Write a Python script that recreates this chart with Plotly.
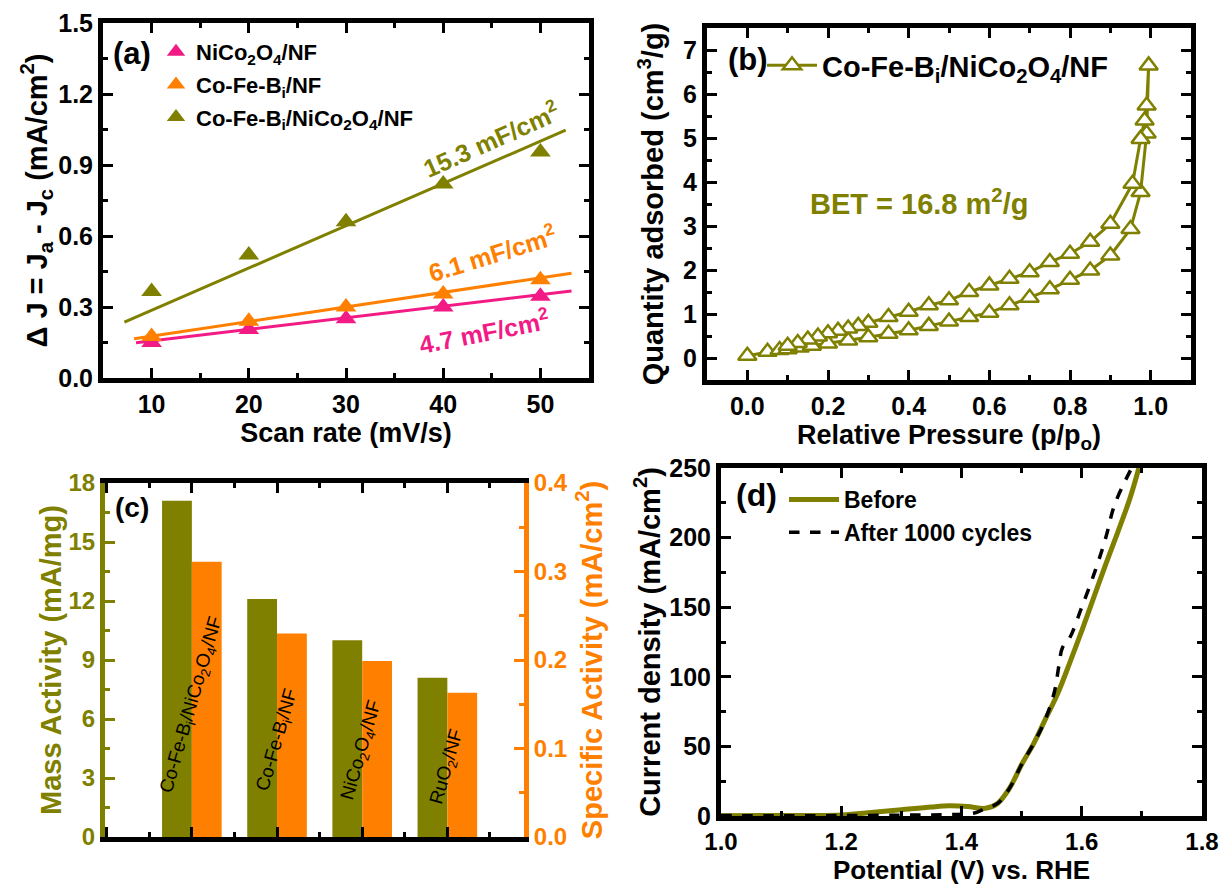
import plotly.graph_objects as go

FONT = "Liberation Sans, Arial, sans-serif"
OLIVE = "#808000"
ORANGE = "#ff8000"
PINK = "#f21b85"

# ---------------- (a) data ----------------
scan_rate = [10, 20, 30, 40, 50]
dj_nico = [0.15, 0.205, 0.25, 0.30, 0.345]
dj_cofe = [0.175, 0.24, 0.30, 0.355, 0.415]
dj_comp = [0.365, 0.52, 0.66, 0.82, 0.955]
fit_x_comp = [7.2, 52.6]
fit_y_comp = [0.236, 1.047]
fit_x_cofe = [8.2, 53.2]
fit_y_cofe = [0.166, 0.443]
fit_x_nico = [8.4, 53.2]
fit_y_nico = [0.149, 0.368]

# ---------------- (b) data ----------------
ads_p = [0.0, 0.05, 0.08, 0.1, 0.13, 0.16, 0.2, 0.25, 0.3, 0.35, 0.4, 0.45, 0.5, 0.55,
         0.6, 0.65, 0.7, 0.75, 0.8, 0.85, 0.9, 0.95, 0.975, 0.99, 0.995]
ads_q = [0.05, 0.14, 0.18, 0.2, 0.24, 0.28, 0.33, 0.4, 0.47, 0.55, 0.63, 0.73, 0.83, 0.93,
         1.03, 1.2, 1.37, 1.56, 1.78, 1.99, 2.33, 2.93, 3.77, 5.1, 6.65]
des_p = [0.99, 0.985, 0.975, 0.955, 0.9, 0.85, 0.8, 0.75, 0.7, 0.65, 0.6, 0.55, 0.5, 0.45,
         0.4, 0.35, 0.3, 0.275, 0.25, 0.225, 0.2, 0.175, 0.15, 0.125, 0.1]
des_q = [5.74, 5.4, 4.98, 3.96, 3.05, 2.64, 2.37, 2.18, 1.95, 1.8, 1.65, 1.5, 1.31, 1.2,
         1.05, 0.93, 0.8, 0.73, 0.67, 0.62, 0.56, 0.49, 0.42, 0.34, 0.28]

# ---------------- (c) data ----------------
catalysts = ["Co-Fe-B<sub>i</sub>/NiCo<sub>2</sub>O<sub>4</sub>/NF", "Co-Fe-B<sub>i</sub>/NF",
             "NiCo<sub>2</sub>O<sub>4</sub>/NF", "RuO<sub>2</sub>/NF"]
cat_pos = [0, 1, 2, 3]
mass_activity = [17.1, 12.1, 10.0, 8.1]
specific_activity = [0.311, 0.230, 0.199, 0.163]
label_y = [6.7, 4.9, 4.4, 3.55]

# ---------------- (d) data ----------------
before_v = [1.0, 1.1, 1.2, 1.25, 1.3, 1.35, 1.38, 1.41, 1.44, 1.46, 1.48, 1.5, 1.52, 1.54,
            1.56, 1.58, 1.6, 1.62, 1.64, 1.66, 1.68, 1.695]
before_j = [0.2, 0.3, 0.8, 2.5, 4.5, 6.5, 7.3, 6.8, 5.5, 9, 20, 37, 52, 70,
            88, 110, 133, 157, 181, 204, 228, 250]
after_v = [1.0, 1.1, 1.2, 1.3, 1.38, 1.42, 1.44, 1.46, 1.48, 1.5, 1.52, 1.54, 1.555,
           1.562, 1.568, 1.58, 1.6, 1.623, 1.64, 1.655, 1.683]
after_j = [0.3, 0.2, 0.3, 0.6, 1.0, 2.0, 5.5, 9, 20, 37, 52, 70, 90,
           108, 121, 128, 150, 177, 200, 224, 250]

fig = go.Figure()

# (a)
for name, y, fx, fy, col, lg in [
    ("NiCo<sub>2</sub>O<sub>4</sub>/NF", dj_nico, fit_x_nico, fit_y_nico, PINK, "g1"),
    ("Co-Fe-B<sub>i</sub>/NF", dj_cofe, fit_x_cofe, fit_y_cofe, ORANGE, "g2"),
    ("Co-Fe-B<sub>i</sub>/NiCo<sub>2</sub>O<sub>4</sub>/NF", dj_comp, fit_x_comp, fit_y_comp, OLIVE, "g3"),
]:
    fig.add_trace(go.Scatter(x=fx, y=fy, mode="lines", line=dict(color=col, width=3),
                             showlegend=False, xaxis="x", yaxis="y"))
    fig.add_trace(go.Scatter(x=scan_rate, y=y, mode="markers", name=name, legendgroup=lg,
                             marker=dict(symbol="triangle-up", size=18, color=col),
                             xaxis="x", yaxis="y", legend="legend"))

# (b)
fig.add_trace(go.Scatter(x=ads_p + des_p, y=ads_q + des_q, mode="lines+markers",
                         name="Co-Fe-B<sub>i</sub>/NiCo<sub>2</sub>O<sub>4</sub>/NF",
                         line=dict(color=OLIVE, width=3),
                         marker=dict(symbol="triangle-up", size=16, color="white",
                                     line=dict(color=OLIVE, width=2.5)),
                         xaxis="x2", yaxis="y2", legend="legend2"))

# (c)
fig.add_trace(go.Bar(x=cat_pos, y=mass_activity, width=0.35, offset=-0.35,
                     marker=dict(color=OLIVE, line=dict(width=0)), showlegend=False,
                     xaxis="x3", yaxis="y3"))
fig.add_trace(go.Bar(x=cat_pos, y=specific_activity, width=0.35, offset=0.0,
                     marker=dict(color=ORANGE, line=dict(width=0)), showlegend=False,
                     xaxis="x3", yaxis="y4"))

# (d)
fig.add_trace(go.Scatter(x=before_v, y=before_j, mode="lines", name="Before",
                         line=dict(color=OLIVE, width=5, shape="spline"),
                         xaxis="x4", yaxis="y5", legend="legend3", legendgroup="b1"))
fig.add_trace(go.Scatter(x=after_v, y=after_j, mode="lines", name="After 1000 cycles",
                         line=dict(color="black", width=3.5, dash="dash", shape="spline"),
                         xaxis="x4", yaxis="y5", legend="legend3", legendgroup="b2"))

W, H = 1222, 886


def dx(a, b):
    return [a / W, b / W]


def dy(top, bottom):
    return [1 - bottom / H, 1 - top / H]


tickfont = dict(family=FONT, size=25, color="black", weight="bold")
xtitlefont = dict(family=FONT, size=27, color="black", weight="bold")
ytitlefont = dict(family=FONT, size=29, color="black", weight="bold")


def frame_axis(**kw):
    base = dict(showline=True, linecolor="black", linewidth=5, mirror="ticks",
                ticks="inside", ticklen=10, tickwidth=3, tickcolor="black",
                showgrid=False, zeroline=False, automargin=False,
                ticklabeloverflow="allow", tickfont=tickfont)
    base.update(kw)
    return base


fig.update_layout(
    width=W, height=H, margin=dict(l=0, r=0, t=0, b=0),
    paper_bgcolor="white", plot_bgcolor="white",
    font=dict(family=FONT),
    xaxis=frame_axis(domain=dx(103, 589), range=[5, 55], tickvals=[10, 20, 30, 40, 50],
                     minor=dict(ticks="inside", ticklen=5, tickwidth=3, dtick=5, tick0=0,
                                tickcolor="black"),
                     title=dict(text="Scan rate (mV/s)", font=xtitlefont, standoff=0),
                     anchor="y"),
    yaxis=frame_axis(domain=dy(23, 378), range=[0, 1.5], dtick=0.3, tickformat=".1f",
                     minor=dict(ticks="inside", ticklen=5, tickwidth=3, dtick=0.15, tick0=0,
                                tickcolor="black"),
                     title=dict(text="\u0394 J = J<sub>a</sub> - J<sub>c</sub> (mA/cm<sup>2</sup>)",
                                font=ytitlefont, standoff=4),
                     anchor="x"),
    xaxis2=frame_axis(domain=dx(707, 1191), range=[-0.1, 1.1], dtick=0.2, tick0=0,
                      tickformat=".1f",
                      minor=dict(ticks="inside", ticklen=5, tickwidth=3, dtick=0.1, tick0=0,
                                 tickcolor="black"),
                      title=dict(text="Relative Pressure (p/p<sub>o</sub>)", font=xtitlefont,
                                 standoff=4),
                      anchor="y2"),
    yaxis2=frame_axis(domain=dy(28, 380), range=[-0.5, 7.5], dtick=1, tick0=0,
                      minor=dict(ticks="inside", ticklen=5, tickwidth=3, dtick=0.5, tick0=0,
                                 tickcolor="black"),
                      title=dict(text="Quantity adsorbed (cm<sup>3</sup>/g)", font=ytitlefont,
                                 standoff=12),
                      anchor="x2"),
    xaxis3=frame_axis(domain=dx(105, 524), range=[-1.02, 3.9], dtick=1, tick0=0,
                      showticklabels=False, mirror="ticks",
                      minor=dict(ticks="inside", ticklen=5, tickwidth=3, dtick=0.5, tick0=0,
                                 tickcolor="black"),
                      anchor="y3"),
    yaxis3=frame_axis(domain=dy(483, 837), range=[0, 18], dtick=3, tick0=0,
                      linecolor=OLIVE, tickcolor=OLIVE, mirror=False,
                      tickfont=dict(family=FONT, size=24, color=OLIVE, weight="bold"),
                      minor=dict(ticks="inside", ticklen=5, tickwidth=3, dtick=1.5, tick0=0,
                                 tickcolor=OLIVE),
                      title=dict(text="Mass Activity (mA/mg)",
                                 font=dict(family=FONT, size=29, color=OLIVE, weight="bold"),
                                 standoff=0),
                      anchor="x3"),
    yaxis4=frame_axis(domain=dy(483, 837), range=[0, 0.4], dtick=0.1, tick0=0,
                      tickformat=".1f", overlaying="y3", side="right",
                      linecolor=ORANGE, tickcolor=ORANGE, mirror=False,
                      tickfont=dict(family=FONT, size=24, color=ORANGE, weight="bold"),
                      minor=dict(ticks="inside", ticklen=5, tickwidth=3, dtick=0.05, tick0=0,
                                 tickcolor=ORANGE),
                      title=dict(text="Specific Activity (mA/cm<sup>2</sup>)",
                                 font=dict(family=FONT, size=29, color=ORANGE, weight="bold"),
                                 standoff=16),
                      anchor="x3"),
    xaxis4=frame_axis(domain=dx(721, 1202), range=[1.0, 1.8], dtick=0.2, tick0=1.0,
                      tickformat=".1f",
                      tickfont=dict(family=FONT, size=24, color="black", weight="bold"),
                      minor=dict(ticks="inside", ticklen=5, tickwidth=3, dtick=0.1, tick0=1.0,
                                 tickcolor="black"),
                      title=dict(text="Potential (V) vs. RHE",
                                 font=dict(family=FONT, size=26, color="black", weight="bold"),
                                 standoff=6),
                      anchor="y5"),
    yaxis5=frame_axis(domain=dy(468, 816), range=[0, 250], dtick=50, tick0=0,
                      minor=dict(ticks="inside", ticklen=5, tickwidth=3, dtick=25, tick0=0,
                                 tickcolor="black"),
                      title=dict(text="Current density (mA/cm<sup>2</sup>)", font=ytitlefont,
                                 standoff=2),
                      anchor="x4"),
    legend=dict(x=156 / W, y=1 - 31 / H, xanchor="left", yanchor="top",
                bgcolor="rgba(0,0,0,0)", tracegroupgap=1,
                font=dict(family=FONT, size=22, color="black", weight="bold")),
    legend2=dict(x=762 / W, y=1 - 40 / H, xanchor="left", yanchor="top",
                 bgcolor="rgba(0,0,0,0)", itemwidth=50,
                 font=dict(family=FONT, size=29, color="black", weight="bold")),
    legend3=dict(x=784 / W, y=1 - 478 / H, xanchor="left", yanchor="top",
                 bgcolor="rgba(0,0,0,0)", tracegroupgap=0, itemwidth=50,
                 font=dict(family=FONT, size=23, color="black", weight="bold")),
    bargap=0.3,
)

ann = []
ann.append(dict(text="(a)", x=111 / W, y=1 - 53 / H, xref="paper", yref="paper",
                xanchor="left", yanchor="middle", showarrow=False,
                font=dict(family=FONT, size=31, color="black", weight="bold")))
ann.append(dict(text="(b)", x=726 / W, y=1 - 60 / H, xref="paper", yref="paper",
                xanchor="left", yanchor="middle", showarrow=False,
                font=dict(family=FONT, size=31, color="black", weight="bold")))
ann.append(dict(text="(c)", x=113 / W, y=1 - 507 / H, xref="paper", yref="paper",
                xanchor="left", yanchor="middle", showarrow=False,
                font=dict(family=FONT, size=28, color="black", weight="bold")))
ann.append(dict(text="(d)", x=734 / W, y=1 - 495 / H, xref="paper", yref="paper",
                xanchor="left", yanchor="middle", showarrow=False,
                font=dict(family=FONT, size=32, color="black", weight="bold")))

ann.append(dict(text="15.3 mF/cm<sup>2</sup>", x=44.9, y=1.01, xref="x", yref="y",
                showarrow=False, textangle=-24,
                font=dict(family=FONT, size=25, color=OLIVE, weight="bold")))
ann.append(dict(text="6.1 mF/cm<sup>2</sup>", x=45.0, y=0.53, xref="x", yref="y",
                showarrow=False, textangle=-17,
                font=dict(family=FONT, size=25, color=ORANGE, weight="bold")))
ann.append(dict(text="4.7 mF/cm<sup>2</sup>", x=44.2, y=0.20, xref="x", yref="y",
                showarrow=False, textangle=-11,
                font=dict(family=FONT, size=25, color=PINK, weight="bold")))

ann.append(dict(text="BET = 16.8 m<sup>2</sup>/g", x=0.425, y=3.55, xref="x2", yref="y2",
                showarrow=False,
                font=dict(family=FONT, size=29, color=OLIVE, weight="bold")))

for c, p, ly in zip(catalysts, cat_pos, label_y):
    ann.append(dict(text=c, x=p, y=ly, xref="x3", yref="y3", showarrow=False,
                    textangle=-74, font=dict(family=FONT, size=19, color="black")))

fig.update_layout(annotations=ann)

fig.write_html("out.html")
